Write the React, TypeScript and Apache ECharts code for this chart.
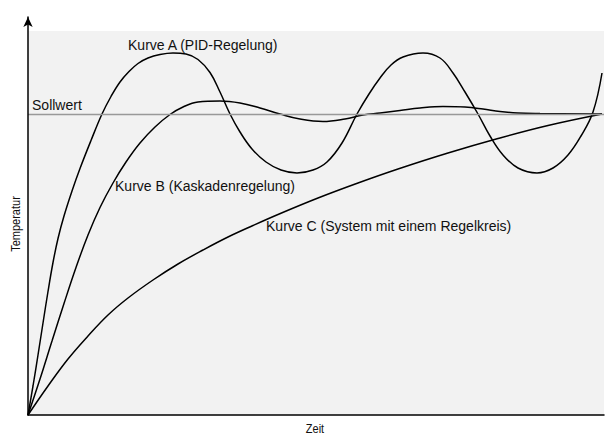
import React, { useEffect, useRef } from "react";
import * as echarts from "echarts";

// Curve A (PID-Regelung)
const timeA = [0, 5, 10, 15, 20, 25, 30, 36, 44, 52, 63, 74, 83, 92, 101, 110, 120, 132, 145, 158, 170, 182, 192, 202, 212, 224, 238, 253, 269, 285, 299, 314, 329, 341, 352, 363, 375, 395, 412, 425, 437, 450, 462, 475, 490, 509, 525, 540, 553, 565, 574];
const tempA = [0, 29, 60, 92, 123.5, 152.5, 176.5, 199, 224, 246.5, 274.5, 301, 318.5, 333, 343.5, 351.5, 357, 360.5, 362, 361, 355.5, 342.5, 323, 301, 283, 266, 253, 245, 242, 245, 253, 272, 301, 321, 337, 350, 358, 362, 357, 342, 323, 301, 279, 260, 247, 242, 247, 260, 279, 303, 342];

// Curve B (Kaskadenregelung)
const timeB = [0, 12, 24, 36, 48, 60, 72, 85, 98, 112, 127, 142, 155, 170, 192, 212, 232, 252, 272, 295, 317, 335, 352, 372, 392, 415, 437, 455, 472, 490, 512, 574];
const tempB = [0, 36, 74, 111.5, 147.5, 180, 207.5, 232, 253, 272, 288, 300.5, 308, 313, 314, 312, 307, 301, 296, 293.5, 296, 300, 302, 304.5, 307, 308.5, 308, 306, 303.5, 302, 301.5, 301];

// Curve C (System mit einem Regelkreis)
const timeC = [0, 20, 40, 60, 80, 100, 125, 150, 175, 200, 225, 250, 290, 330, 370, 420, 470, 520, 574];
const tempC = [0, 29, 56, 79, 100, 117, 135, 151, 165, 178, 189.5, 200.5, 217, 232, 246, 262, 276.5, 289.5, 301];

const setpoint = 301;
const fieldTop = 384;
const timeEnd = 576;
const tempAxisMax = 398;

const curveLabels = [
  "Kurve A (PID-Regelung)",
  "Kurve B (Kaskadenregelung)",
  "Kurve C (System mit einem Regelkreis)",
];
const setpointLabel = "Sollwert";
const xName = "Zeit";
const yName = "Temperatur";

const FONT = "'Liberation Sans', Arial, sans-serif";

function pairs(t: number[], v: number[]) {
  return t.map((x, i) => [x, v[i]]);
}

export default function App() {
  const ref = useRef<HTMLDivElement>(null);
  useEffect(() => {
    document.body.style.margin = "0";
    if (!ref.current) return;
    const chart = echarts.init(ref.current, undefined, { renderer: "svg" });
    const curveStyle = { color: "#000", width: 1.5 };
    const curve = (t: number[], v: number[]) => ({
      type: "line",
      data: pairs(t, v),
      showSymbol: false,
      smooth: 0.4,
      lineStyle: curveStyle,
      silent: true,
      z: 3,
    });
    const label = (text: string, x: number, y: number) => ({
      type: "text",
      x,
      y,
      z: 100,
      scaleX: 0.905,
      style: {
        text,
        fill: "#111",
        fontSize: 15.5,
        fontFamily: FONT,
        align: "left",
        verticalAlign: "middle",
      },
    });
    chart.setOption({
      animation: false,
      grid: { left: 28, right: 9, top: 17, bottom: 20, containLabel: false },
      xAxis: {
        type: "value",
        min: 0,
        max: timeEnd,
        axisLine: { show: true, lineStyle: { color: "#000", width: 1.5 } },
        axisTick: { show: false },
        axisLabel: { show: false },
        splitLine: { show: false },
        z: 5,
      },
      yAxis: {
        type: "value",
        min: 0,
        max: tempAxisMax,
        axisLine: {
          show: true,
          symbol: ["none", "arrow"],
          symbolSize: [7, 10],
          lineStyle: { color: "#000", width: 1.5 },
        },
        axisTick: { show: false },
        axisLabel: { show: false },
        splitLine: { show: false },
        z: 5,
      },
      graphic: [
        label(curveLabels[0], 128, 45),
        label(curveLabels[1], 115, 186),
        label(curveLabels[2], 266, 226),
        label(setpointLabel, 32, 105),
        {
          type: "text",
          x: 15,
          y: 224,
          z: 100,
          rotation: Math.PI / 2,
          scaleX: 0.88,
          style: { text: yName, fill: "#111", fontSize: 12.5, fontFamily: FONT, align: "center", verticalAlign: "middle" },
        },
        {
          type: "text",
          x: 315,
          y: 428,
          z: 100,
          scaleX: 0.88,
          style: { text: xName, fill: "#111", fontSize: 12.5, fontFamily: FONT, align: "center", verticalAlign: "middle" },
        },
      ],
      series: [
        {
          type: "line",
          data: [],
          silent: true,
          z: 1,
          markArea: {
            silent: true,
            itemStyle: { color: "#f2f2f2" },
            data: [[{ xAxis: 0, yAxis: 0 }, { xAxis: timeEnd, yAxis: fieldTop }]],
          },
        },
        {
          type: "line",
          data: [],
          silent: true,
          z: 2,
          markLine: {
            silent: true,
            symbol: "none",
            label: { show: false },
            lineStyle: { color: "#999", width: 1.3, type: "solid" },
            data: [{ yAxis: setpoint }],
          },
        },
        curve(timeA, tempA),
        curve(timeB, tempB),
        curve(timeC, tempC),
      ],
    });
    return () => chart.dispose();
  }, []);
  return <div ref={ref} style={{ width: 613, height: 435 }} />;
}
